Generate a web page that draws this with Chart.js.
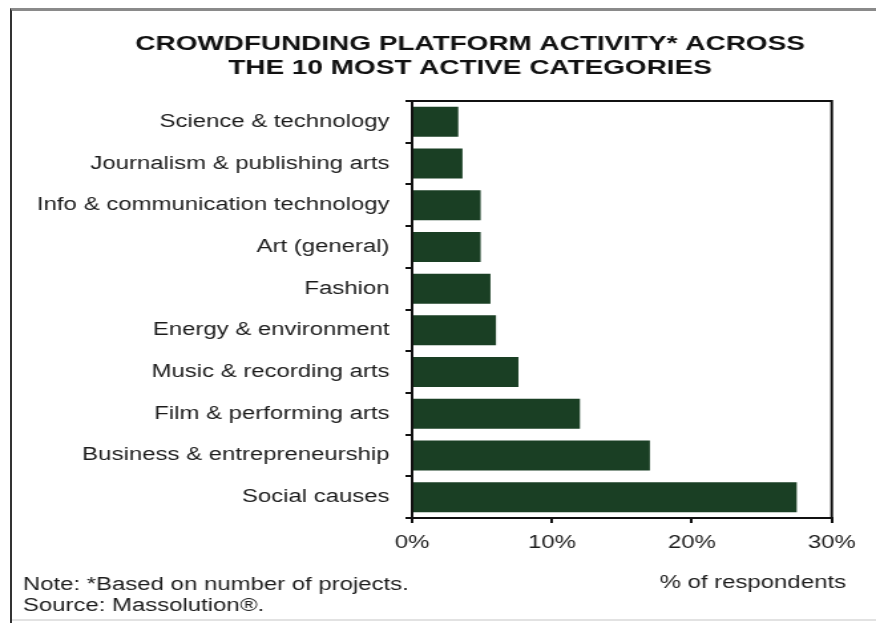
<!DOCTYPE html>
<html>
<head>
<meta charset="utf-8">
<script src="https://cdn.jsdelivr.net/npm/chart.js@4.4.1/dist/chart.umd.min.js"></script>
<style>
  html, body { margin:0; padding:0; background:#fff; overflow:hidden; }
  #page { position:relative; width:876px; height:623px; overflow:hidden; }
  #frame { position:absolute; left:10px; top:8px; right:-10px; bottom:-10px;
           border-top:3px solid #8a8a8a; border-left:2px solid #333; }
  #foot { position:absolute; left:12px; right:0; top:619px; height:2px; background:#e2e2e2; }
  /* the source picture is stretched sideways, so the chart is drawn narrow and widened */
  #wrap { position:absolute; left:0; top:0; width:659px; height:623px;
          transform:scaleX(1.3293); transform-origin:0 0; }
</style>
</head>
<body>
<div id="page">
  <div id="wrap"><canvas id="chart"></canvas></div>
  <div id="frame"></div>
  <div id="foot"></div>
</div>
<script>
const CATEGORIES = [
  'Science & technology',
  'Journalism & publishing arts',
  'Info & communication technology',
  'Art (general)',
  'Fashion',
  'Energy & environment',
  'Music & recording arts',
  'Film & performing arts',
  'Business & entrepreneurship',
  'Social causes'
];
const SHARE = [3.3, 3.6, 4.9, 4.9, 5.6, 6.0, 7.6, 12.0, 17.0, 27.5];
const X_TICKS = [0, 10, 20, 30];

const TITLE_LINES = ['CROWDFUNDING PLATFORM ACTIVITY* ACROSS', 'THE 10 MOST ACTIVE CATEGORIES'];
const NOTE_LINES = ['Note: *Based on number of projects.', 'Source: Massolution\u00AE.'];
const UNIT_LABEL = '% of respondents';

const FONT = '"Liberation Sans", Arial, Helvetica, sans-serif';
const INK = '#1c1c1c';

// text around the plot + the top/right sides of the plot box
const extras = {
  id: 'extras',
  afterDraw(chart) {
    const { ctx, chartArea: a } = chart;
    ctx.save();
    ctx.strokeStyle = '#111';
    ctx.lineWidth = 2;
    ctx.beginPath();
    ctx.moveTo(a.left, a.top);
    ctx.lineTo(a.right, a.top);
    ctx.lineTo(a.right, a.bottom);
    ctx.stroke();

    ctx.fillStyle = '#111';
    ctx.textAlign = 'center';
    ctx.textBaseline = 'alphabetic';
    ctx.font = 'bold 21px ' + FONT;
    TITLE_LINES.forEach((t, i) => ctx.fillText(t, 353.6, 50 + i * 24));

    ctx.fillStyle = INK;
    ctx.font = '18px ' + FONT;
    ctx.textAlign = 'left';
    NOTE_LINES.forEach((t, i) => ctx.fillText(t, 17.3, 590 + i * 20.5));
    ctx.textAlign = 'right';
    ctx.fillText(UNIT_LABEL, 636.4, 588);
    ctx.restore();
  }
};

new Chart(document.getElementById('chart'), {
  type: 'bar',
  data: {
    labels: CATEGORIES,
    datasets: [{
      data: SHARE,
      backgroundColor: '#1a3f24',
      borderWidth: 0,
      barPercentage: 0.72,
      categoryPercentage: 1
    }]
  },
  options: {
    indexAxis: 'y',
    responsive: true,
    maintainAspectRatio: false,
    animation: false,
    layout: { padding: { top: 101, right: 33.3, bottom: 0, left: 0 } },
    plugins: { legend: { display: false }, title: { display: false }, tooltip: { enabled: false } },
    scales: {
      x: {
        min: 0, max: 30,
        afterBuildTicks: s => { s.ticks = X_TICKS.map(v => ({ value: v })); },
        afterFit: s => { s.height = 105; },
        ticks: { callback: v => v + '%', color: INK, padding: 9, font: { family: FONT, size: 18 } },
        grid: { drawOnChartArea: false, drawTicks: true, tickLength: 5, color: '#111', lineWidth: 2 },
        border: { display: true, color: '#111', width: 2 }
      },
      y: {
        afterFit: s => { s.width = 310; },
        ticks: { color: INK, padding: 12, font: { family: FONT, size: 18 } },
        grid: { drawOnChartArea: false, drawTicks: true, tickLength: 5, color: '#111', lineWidth: 2, offset: true },
        border: { display: true, color: '#111', width: 2 }
      }
    }
  },
  plugins: [extras]
});
</script>
</body>
</html>
